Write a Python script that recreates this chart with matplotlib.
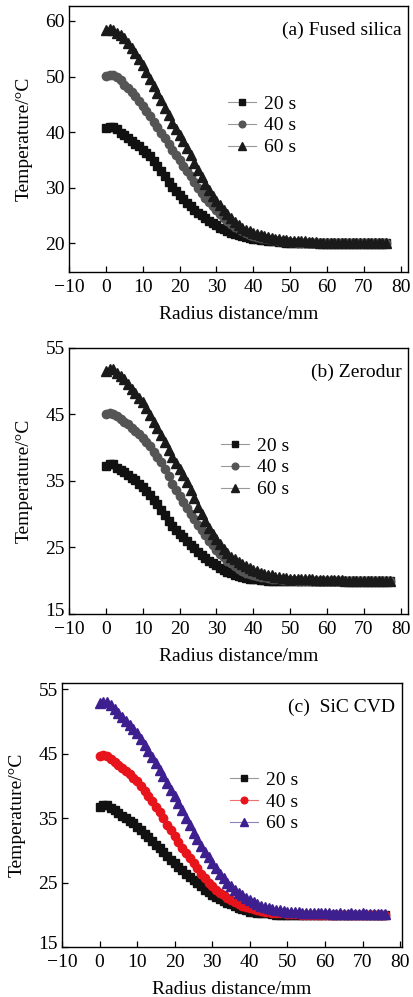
import matplotlib
matplotlib.use("Agg")
import matplotlib.pyplot as plt
import matplotlib.transforms as mtransforms

plt.rcParams['font.family'] = ['Liberation Serif', 'DejaVu Serif']
plt.rcParams['font.size'] = 14

# radius grids (mm)
r_a = list(range(77))
r_b = list(range(78))
r_c = list(range(77))

series_labels = ["20 s", "40 s", "60 s"]

# (a) Fused silica
fs_20 = [40.7, 40.9, 40.9, 40.5, 39.9, 39.4, 38.9, 38.4, 37.9, 37.4,
         36.8, 36.2, 35.6, 34.8, 33.8, 32.9, 32.0, 31.0, 30.1, 29.4,
         28.7, 28.0, 27.3, 26.6, 26.0, 25.5, 25.0, 24.5, 24.0, 23.6,
         23.2, 22.8, 22.5, 22.2, 21.9, 21.7, 21.5, 21.3, 21.1, 20.9,
         20.8, 20.7, 20.6, 20.5, 20.4, 20.3, 20.3, 20.2, 20.2, 20.1,
         20.1, 20.0, 20.0, 20.0, 20.0, 20.0, 20.0, 20.0, 20.0, 20.0,
         20.0, 20.0, 20.0, 20.0, 20.0, 20.0, 20.0, 20.0, 20.0, 20.0,
         20.0, 20.0, 20.0, 20.0, 20.0, 20.0, 20.0]
fs_40 = [50.1, 50.3, 50.3, 49.9, 49.3, 48.5, 47.9, 47.2, 46.4, 45.5,
         44.6, 43.7, 42.8, 41.8, 40.9, 39.9, 38.9, 37.8, 36.8, 35.8,
         34.9, 33.9, 33.0, 32.0, 31.0, 29.9, 29.0, 28.2, 27.4, 26.7,
         26.0, 25.3, 24.6, 24.0, 23.4, 22.9, 22.5, 22.1, 21.8, 21.5,
         21.3, 21.1, 21.0, 20.9, 20.8, 20.6, 20.5, 20.4, 20.3, 20.3,
         20.2, 20.2, 20.1, 20.1, 20.1, 20.1, 20.0, 20.0, 20.0, 20.0,
         20.0, 20.0, 20.0, 20.0, 20.0, 20.0, 20.0, 20.0, 20.0, 20.0,
         20.0, 20.0, 20.0, 20.0, 20.0, 20.0, 20.0]
fs_60 = [58.3, 58.5, 58.4, 57.8, 57.4, 56.9, 56.1, 55.2, 54.2, 53.2,
         52.1, 50.9, 49.6, 48.3, 47.0, 45.7, 44.3, 43.0, 41.6, 40.5,
         39.4, 38.3, 37.1, 35.8, 34.4, 33.1, 31.9, 30.7, 29.6, 28.5,
         27.6, 26.8, 26.0, 25.3, 24.5, 23.8, 23.2, 22.8, 22.4, 22.1,
         21.8, 21.6, 21.4, 21.2, 21.1, 20.9, 20.8, 20.7, 20.5, 20.5,
         20.4, 20.4, 20.3, 20.3, 20.3, 20.2, 20.2, 20.2, 20.1, 20.1,
         20.1, 20.1, 20.1, 20.1, 20.1, 20.1, 20.0, 20.1, 20.0, 20.1,
         20.0, 20.0, 20.1, 20.0, 20.0, 20.0, 20.0]

# (b) Zerodur
zd_20 = [37.3, 37.5, 37.5, 37.0, 36.6, 36.3, 35.9, 35.5, 35.1, 34.6,
         34.1, 33.5, 32.9, 32.2, 31.5, 30.7, 29.9, 29.0, 28.2, 27.6,
         27.0, 26.5, 26.0, 25.4, 24.9, 24.3, 23.9, 23.4, 23.0, 22.7,
         22.3, 21.9, 21.6, 21.3, 21.1, 20.9, 20.7, 20.5, 20.4, 20.3,
         20.2, 20.2, 20.1, 20.1, 20.0, 20.0, 20.0, 20.0, 20.0, 20.0,
         20.0, 20.0, 20.0, 20.0, 20.0, 20.0, 20.0, 20.0, 20.0, 20.0,
         20.0, 20.0, 20.0, 20.0, 20.0, 20.0, 20.0, 20.0, 20.0, 20.0,
         20.0, 20.0, 20.0, 20.0, 20.0, 20.0, 20.0, 20.0]
zd_40 = [45.0, 45.2, 45.1, 44.7, 44.3, 43.9, 43.5, 43.0, 42.5, 42.0,
         41.5, 40.9, 40.2, 39.4, 38.6, 37.8, 36.8, 35.7, 34.6, 33.7,
         32.8, 31.8, 30.9, 30.1, 29.3, 28.4, 27.6, 26.8, 26.0, 25.3,
         24.6, 24.0, 23.5, 23.0, 22.6, 22.2, 21.8, 21.5, 21.2, 21.0,
         20.8, 20.7, 20.6, 20.5, 20.4, 20.3, 20.2, 20.2, 20.1, 20.1,
         20.1, 20.1, 20.0, 20.0, 20.0, 20.0, 20.0, 20.0, 20.0, 20.0,
         20.0, 20.0, 20.0, 20.0, 20.0, 20.0, 20.0, 20.0, 20.0, 20.0,
         20.0, 20.0, 20.0, 20.0, 20.0, 20.0, 20.0, 20.0]
zd_60 = [51.6, 51.9, 51.8, 51.3, 50.8, 50.3, 49.6, 48.9, 48.2, 47.5,
         46.8, 45.9, 44.9, 43.9, 42.9, 41.9, 40.8, 39.7, 38.6, 37.7,
         36.8, 35.9, 34.9, 33.7, 32.4, 31.1, 30.0, 29.0, 28.0, 27.0,
         26.2, 25.5, 24.8, 24.1, 23.6, 23.2, 22.8, 22.5, 22.2, 21.9,
         21.6, 21.4, 21.2, 21.0, 20.9, 20.8, 20.6, 20.5, 20.4, 20.4,
         20.3, 20.3, 20.2, 20.2, 20.2, 20.2, 20.2, 20.1, 20.1, 20.1,
         20.1, 20.1, 20.1, 20.1, 20.1, 20.0, 20.0, 20.0, 20.0, 20.0,
         20.0, 20.0, 20.0, 20.0, 20.0, 20.0, 20.0, 20.0]

# (c) SiC CVD
sc_20 = [36.8, 37.1, 37.0, 36.6, 36.2, 35.8, 35.4, 35.0, 34.6, 34.2,
         33.7, 33.2, 32.6, 32.0, 31.5, 30.9, 30.3, 29.7, 29.1, 28.5,
         28.0, 27.4, 26.9, 26.4, 25.9, 25.4, 24.9, 24.4, 23.9, 23.5,
         23.1, 22.7, 22.4, 22.1, 21.8, 21.6, 21.3, 21.1, 20.9, 20.7,
         20.5, 20.4, 20.3, 20.3, 20.2, 20.2, 20.1, 20.0, 20.0, 20.0,
         20.0, 20.0, 20.0, 20.0, 20.0, 20.0, 20.0, 20.0, 20.0, 20.0,
         20.0, 20.0, 20.0, 20.0, 20.0, 20.0, 20.0, 20.0, 20.0, 20.0,
         20.0, 20.0, 20.0, 20.0, 20.0, 20.0, 20.0]
sc_40 = [44.6, 44.8, 44.7, 44.2, 43.8, 43.3, 42.8, 42.3, 41.8, 41.3,
         40.7, 40.0, 39.2, 38.4, 37.6, 36.8, 35.9, 35.0, 34.0, 33.1,
         32.2, 31.3, 30.4, 29.6, 28.8, 28.0, 27.2, 26.4, 25.7, 25.0,
         24.4, 23.9, 23.4, 23.0, 22.6, 22.3, 22.0, 21.7, 21.4, 21.2,
         21.0, 20.9, 20.7, 20.6, 20.5, 20.4, 20.3, 20.3, 20.2, 20.2,
         20.1, 20.1, 20.1, 20.1, 20.0, 20.0, 20.0, 20.0, 20.0, 20.0,
         20.0, 20.0, 20.0, 20.0, 20.0, 20.0, 20.0, 20.0, 20.0, 20.0,
         20.0, 20.0, 20.0, 20.0, 20.0, 20.0, 20.0]
sc_60 = [52.9, 53.1, 53.0, 52.5, 51.9, 51.3, 50.7, 50.1, 49.5, 48.9,
         48.2, 47.3, 46.4, 45.4, 44.5, 43.5, 42.5, 41.5, 40.5, 39.4,
         38.4, 37.3, 36.2, 35.0, 33.9, 32.7, 31.7, 30.7, 29.8, 28.9,
         28.0, 27.2, 26.4, 25.7, 25.0, 24.4, 23.9, 23.4, 23.0, 22.6,
         22.3, 22.0, 21.7, 21.4, 21.2, 21.0, 20.9, 20.8, 20.7, 20.6,
         20.5, 20.5, 20.4, 20.4, 20.3, 20.3, 20.2, 20.2, 20.2, 20.2,
         20.2, 20.2, 20.1, 20.1, 20.2, 20.1, 20.1, 20.2, 20.1, 20.1,
         20.2, 20.1, 20.1, 20.1, 20.1, 20.1, 20.1]

x_ticks = [-10, 0, 10, 20, 30, 40, 50, 60, 70, 80]


def panel(ax, r, ys, colors, linecolors, title, ylim, yticks, xlim, leg_anchor):
    markers = ['s', 'o', '^']
    sizes = [5.5, 6, 6.5]
    for y, m, ms, c, lc, lab in zip(ys, markers, sizes, colors, linecolors, series_labels):
        ax.plot(r, y, color=lc, lw=0.8, marker=m, ms=ms, mfc=c, mec=c, label=lab)
    ax.set_xlim(*xlim)
    ax.set_ylim(*ylim)
    ax.set_xticks(x_ticks)
    ax.set_yticks(yticks)
    ax.tick_params(direction='in', length=4, width=0.9)
    ax.tick_params(axis='x', pad=5)
    ax.tick_params(axis='y', pad=3)
    for s in ax.spines.values():
        s.set_linewidth(1.0)
    ax.set_xlabel("Radius distance/mm", labelpad=7)
    ax.set_ylabel("Temperature/°C", labelpad=9)
    ax.text(0.98, 0.94, title, transform=ax.transAxes, ha='right', va='top')
    ax.legend(loc='center left', bbox_to_anchor=leg_anchor, frameon=False,
              handlelength=1.45, handletextpad=0.4, labelspacing=0.22,
              borderaxespad=0, markerscale=0.8)
    # lowest y label sits just above the x tick labels
    if yticks[0] == ylim[0]:
        fig.canvas.draw()
        lab0 = ax.get_yticklabels()[0]
        lab0.set_transform(lab0.get_transform() +
                           mtransforms.ScaledTranslation(0, 3 / 72, fig.dpi_scale_trans))


fig = plt.figure(figsize=(4.14, 9.97), dpi=100)
ax_a = fig.add_axes([0.1667, 0.7272, 0.819, 0.2668])
ax_b = fig.add_axes([0.1667, 0.3842, 0.819, 0.2668])
ax_c = fig.add_axes([0.1498, 0.0502, 0.8213, 0.2648])

panel(ax_a, r_a, [fs_20, fs_40, fs_60], ['#111111', '#555555', '#1a1a1a'],
      ['#999999', '#999999', '#999999'], "(a) Fused silica",
      (14.8, 62.7), [20, 30, 40, 50, 60], (-10, 82), (0.445, 0.55))
panel(ax_b, r_b, [zd_20, zd_40, zd_60], ['#111111', '#555555', '#1a1a1a'],
      ['#999999', '#999999', '#999999'], "(b) Zerodur",
      (15, 55), [15, 25, 35, 45, 55], (-10, 82), (0.425, 0.55))
panel(ax_c, r_c, [sc_20, sc_40, sc_60], ['#111111', '#e8141c', '#3d1f8f'],
      ['#999999', '#f07070', '#8f80c0'], "(c)  SiC CVD",
      (15, 56), [15, 25, 35, 45, 55], (-10, 80.5), (0.47, 0.55))

fig.savefig("out.png", dpi=100)
